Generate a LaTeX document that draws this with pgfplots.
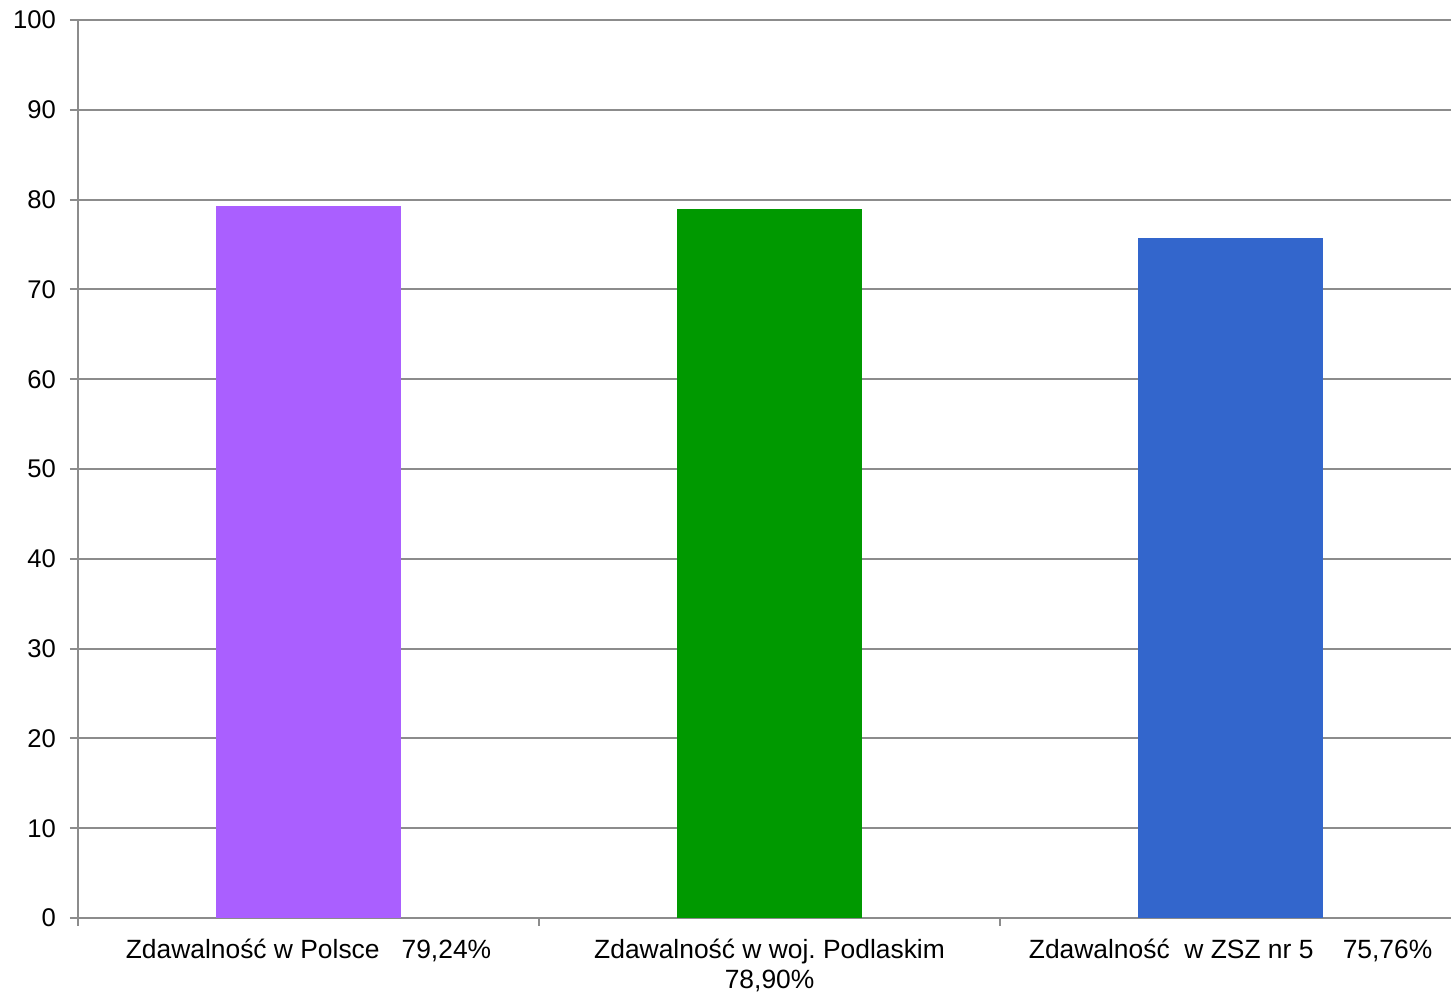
\documentclass[border=0pt]{standalone}
\usepackage{pgfplots}
\pgfplotsset{compat=1.18}
\usepackage{fontspec}
\setmainfont{Liberation Sans}
\definecolor{barpurple}{RGB}{170,95,255}
\definecolor{bargreen}{RGB}{0,153,0}
\definecolor{barblue}{RGB}{51,102,204}
\definecolor{gridgray}{RGB}{140,140,140}
\begin{document}
\frenchspacing
\begin{tikzpicture}[x=1pt,y=1pt]
\begin{axis}[
  at={(0,0)}, anchor=south west,
  scale only axis,
  width=686.5pt, height=449pt,
  xmin=-0.5, xmax=2.478,
  ymin=0, ymax=100,
  ytick={0,10,...,100},
  xtick={0,1,2},
  xticklabels={{Zdawalność w Polsce\ \ \ 79,24\%},{Zdawalność w woj. Podlaskim\\78,90\%},{Zdawalność\ \ w ZSZ nr 5\ \ \ \ 75,76\%}},
  xticklabel style={align=center, yshift=-3pt, font=\fontsize{13.2}{15}\selectfont},
  minor xtick={-0.5,0.5,1.5},
  major x tick style={draw=none},
  minor x tick style={draw=gridgray, line width=1pt},
  ymajorgrids,
  grid style={gridgray, line width=1pt},
  tick align=outside,
  major tick length=4pt,
  minor tick length=4pt,
  tick style={gridgray, line width=1pt},
  axis x line*=bottom,
  axis y line*=left,
  axis line style={gridgray, line width=1pt, -},
  /pgf/number format/assume math mode=true,
  yticklabel style={xshift=-3.5pt, font=\fontsize{12.8}{15}\selectfont},
  ybar, bar width=92.5pt, bar shift=0pt,
  clip=false,
]
\addplot[draw=none, fill=barpurple] coordinates {(0,79.24)};
\addplot[draw=none, fill=bargreen] coordinates {(1,78.90)};
\addplot[draw=none, fill=barblue] coordinates {(2,75.76)};
\end{axis}
\pgfresetboundingbox
\path[use as bounding box] (-39pt,-38pt) rectangle (686.5pt,459pt);
\end{tikzpicture}
\end{document}
